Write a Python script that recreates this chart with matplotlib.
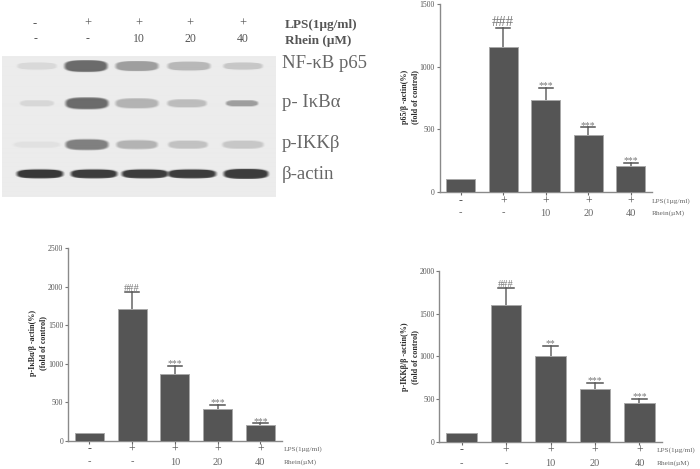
import matplotlib
matplotlib.use("Agg")
import matplotlib.pyplot as plt
import numpy as np

plt.rcParams['font.family'] = ['Liberation Serif', 'DejaVu Serif']

W, H = 700, 469

# bar charts
p65_vals = [100, 1160, 735, 455, 210]
p65_tops = [100, 1310, 830, 515, 235]
ikb_vals = [100, 1710, 860, 410, 205]
ikb_tops = [100, 1930, 970, 460, 225]
ikk_vals = [100, 1595, 1000, 615, 450]
ikk_tops = [100, 1800, 1125, 690, 505]

lps_row = ['-', '+', '+', '+', '+']
rhein_row = ['-', '-', '10', '20', '40']
p65_marks = ['', '###', '***', '***', '***']
ikb_marks = ['', '###', '***', '***', '***']
ikk_marks = ['', '###', '**', '***', '***']

# western blot, darkness of each band (grey level), half width and half height in pixels
blot_names = ['NF-κB p65', 'p- IκBα', 'p-IKKβ', 'β-actin']
blot_grey = [[0.85, 0.42, 0.62, 0.72, 0.78],
             [0.84, 0.42, 0.70, 0.74, 0.62],
             [0.88, 0.50, 0.70, 0.76, 0.78],
             [0.22, 0.24, 0.24, 0.24, 0.24]]
blot_width = [[22, 24, 24, 24, 22],
              [19, 24, 24, 22, 18],
              [26, 24, 23, 22, 23],
              [26, 26, 26, 27, 25]]
blot_height = [[4.0, 6.5, 5.5, 5.0, 4.0],
               [3.5, 6.5, 5.5, 4.5, 3.5],
               [3.5, 6.0, 5.0, 4.5, 4.5],
               [5.0, 5.0, 5.0, 5.0, 5.5]]

fig = plt.figure(figsize=(7, 4.69), dpi=100)


def px_text(x, y, s, **kw):
    kw.setdefault('va', 'center')
    kw.setdefault('color', '#555555')
    fig.text(x / W, 1 - y / H, s, **kw)


def bar_panel(left, right, top, bottom, ymax, step, vals, tops, marks, mark_size, big_mark,
              label1, label2, lab_x, row1, row2, row_x):
    ax = fig.add_axes([left / W, 1 - bottom / H, (right - left) / W, (bottom - top) / H])
    x = np.arange(5)
    ax.bar(x, vals, width=0.68, color='#555555', edgecolor='#a8a8a8', linewidth=0.7, zorder=3)
    for i in x[1:]:
        ax.plot([i, i], [vals[i], tops[i]], color='#666666', lw=1.1, zorder=2)
        ax.plot([i - 0.17, i + 0.17], [tops[i], tops[i]], color='#555555', lw=1.1, zorder=2)
        size = big_mark if marks[i] == '###' else mark_size
        off = -0.005 if marks[i] == '###' else -0.012
        ax.text(i, tops[i] + ymax * off, marks[i], ha='center', va='bottom',
                fontsize=size, color='#777777')
    ax.set_xlim(-0.5, 4.5)
    ax.set_ylim(0, ymax)
    ax.set_yticks(np.arange(0, ymax + 1, step))
    ax.set_xticks(x)
    ax.set_xticklabels([])
    ax.tick_params(axis='y', labelsize=5.6, length=2.5, width=0.8, color='#777777',
                   labelcolor='#555555', pad=1)
    ax.tick_params(axis='x', length=2.5, width=0.8, color='#666666')
    for s in ['top', 'right']:
        ax.spines[s].set_visible(False)
    for s in ['left', 'bottom']:
        ax.spines[s].set_color('#8a8a8a')
        ax.spines[s].set_linewidth(1.0)
    ax.patch.set_alpha(0)
    for i in x:
        cx = left + (i + 0.5) * (right - left) / 5
        px_text(cx, row1, lps_row[i], ha='center', fontsize=8.5)
        px_text(cx, row2, rhein_row[i], ha='center', fontsize=7.5, color='#666666')
    px_text(row_x, row1, 'LPS(1µg/ml)', fontsize=5.2, color='#666666')
    px_text(row_x, row2, 'Rhein(µM)', fontsize=5.2, color='#666666')
    px_text(lab_x, label1[1], label1[0], rotation=90, ha='center', fontsize=5.8,
            fontweight='bold', color='#2a2a2a')
    px_text(lab_x + 10, label2[1], label2[0], rotation=90, ha='center', fontsize=5.8,
            fontweight='bold', color='#2a2a2a')
    return ax


bar_panel(439.5, 652, 4, 192, 1500, 500, p65_vals, p65_tops, p65_marks, 7, 10.5,
          ('p65/β -actin(%)', 97), ('(fold of control)', 97), 405, 201.5, 213, 652)
bar_panel(68, 281.7, 248, 440.7, 2500, 500, ikb_vals, ikb_tops, ikb_marks, 7, 7.5,
          ('p-IκBα/β -actin(%)', 343), ('(fold of control)', 343), 33, 449.5, 462, 284)
bar_panel(439.3, 661.7, 270.7, 442, 2000, 500, ikk_vals, ikk_tops, ikk_marks, 7, 7.5,
          ('p-IKKβ/β -actin(%)', 357), ('(fold of control)', 357), 405, 450.5, 463.5, 657)

# blot image, built from the band table
bx0, bx1, by0, by1 = 2, 276, 56, 197
lanes = [[37, 86, 137, 189, 243],
         [37, 87, 137, 187, 242],
         [37, 87, 137, 188, 243],
         [40, 94, 145, 192, 246]]
rows = [67, 104, 145, 174]
header_x = [35, 88, 139, 190, 243]
xx, yy = np.meshgrid(np.arange(bx0, bx1) + 0.5, np.arange(by0, by1) + 0.5)
img = np.full(xx.shape, 0.925)
for r, cy in enumerate(rows):
    for c, cx in enumerate(lanes[r]):
        rad = (np.abs((xx - cx) / blot_width[r][c]) ** 3 + np.abs((yy - cy) / blot_height[r][c]) ** 3) ** (1 / 3)
        d = np.clip((1 - rad) / 0.22, 0, 1)
        d = d * d * (3 - 2 * d)
        img = img * (1 - d) + blot_grey[r][c] * d

ax_blot = fig.add_axes([bx0 / W, 1 - by1 / H, (bx1 - bx0) / W, (by1 - by0) / H])
ax_blot.imshow(img, cmap='gray', vmin=0, vmax=1, aspect='auto', interpolation='bilinear')
ax_blot.axis('off')

for cx, a, b in zip(header_x, lps_row, rhein_row):
    px_text(cx, 24, a, ha='center', fontsize=9)
    px_text(cx, 39.5, b, ha='center', fontsize=8.5)
px_text(285, 25, 'LPS(1μg/ml)', fontsize=9.5, fontweight='bold', color='#555555')
px_text(285, 41, 'Rhein (μM)', fontsize=9.5, fontweight='bold', color='#555555')

for name, y in zip(blot_names, [64, 102, 143, 174]):
    px_text(282, y, name, fontsize=13.5, color='#666666')

plt.savefig('out.png', dpi=100)
